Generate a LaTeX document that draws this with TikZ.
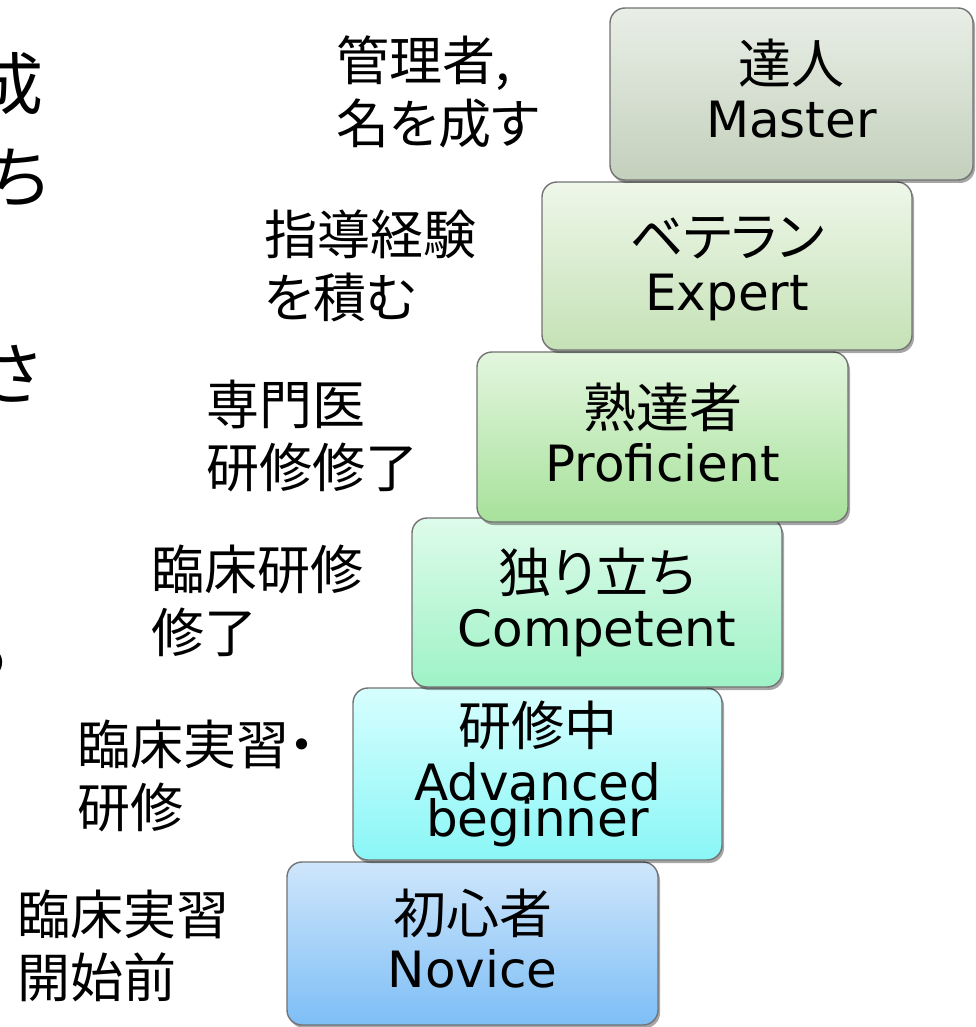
\documentclass[tikz,border=0pt]{standalone}
\usepackage{fontspec}
\setmainfont[RawFeature=+palt]{Noto Sans CJK JP}
\newfontfamily\lat{DejaVu Sans}
\usetikzlibrary{shadows}
\tikzset{
  stepbox/.style={rectangle, rounded corners=15pt, draw=black!55, line width=1.4pt,
    inner sep=0pt, drop shadow={shadow xshift=2pt, shadow yshift=-3pt, opacity=0.35, fill=black}},
  jp/.style={inner sep=0pt, anchor=base, font=\fontsize{53}{58}\selectfont},
  en/.style={inner sep=0pt, anchor=base, font=\fontsize{50}{55}\selectfont\lat},
  lbl/.style={inner sep=0pt, anchor=base west, font=\fontsize{53}{62}\selectfont},
  cut/.style={inner sep=0pt, anchor=base east, font=\fontsize{68}{80}\selectfont},
}
\definecolor{mT}{HTML}{E9EEE6}\definecolor{mB}{HTML}{C3D0BC}
\definecolor{eT}{HTML}{EEF7E9}\definecolor{eB}{HTML}{C5E1B6}
\definecolor{pT}{HTML}{E3F6DE}\definecolor{pB}{HTML}{A7E19B}
\definecolor{cT}{HTML}{DEFBEA}\definecolor{cB}{HTML}{9EF2C6}
\definecolor{aT}{HTML}{D7FEFE}\definecolor{aB}{HTML}{8AF6F6}
\definecolor{nT}{HTML}{CFE6FB}\definecolor{nB}{HTML}{7DBEF6}
\begin{document}
\begin{tikzpicture}[x=1pt,y=-1pt]
\useasboundingbox (0,0) rectangle (975,1027);
\clip (0,0) rectangle (975,1027);
\fill[white] (0,0) rectangle (975,1027);

% cut-off text at the left edge
\node[cut] (c1) at (44,110) {成};
\node[cut] (c2) at (48,202) {ち};
\node[cut] (c3) at (41,399) {さ};
\node[cut] (c4) at (9,677) {る};

% boxes, bottom to top
\node[stepbox, top color=nT, bottom color=nB, minimum width=371pt, minimum height=163pt] (nov) at (472.5,943.5) {};
\node[jp] (nov-jp) at ([yshift=10pt]nov.center) {初心者};
\node[en] (nov-en) at ([yshift=-44pt]nov.center) {Novice};

\node[stepbox, top color=aT, bottom color=aB, minimum width=369pt, minimum height=172pt] (adv) at (537.5,774) {};
\node[jp] (adv-jp) at ([yshift=29pt]adv.center) {研修中};
\node[en] (adv-en) at ([yshift=-26pt]adv.center) {Advanced};
\node[en] (adv-en2) at ([yshift=-62pt]adv.center) {beginner};

\node[stepbox, top color=cT, bottom color=cB, minimum width=370pt, minimum height=169pt] (com) at (597,602.5) {};
\node[jp] (com-jp) at ([yshift=10pt]com.center) {独り立ち};
\node[en] (com-en) at ([yshift=-44pt]com.center) {Competent};

\node[stepbox, top color=pT, bottom color=pB, minimum width=371pt, minimum height=170pt] (pro) at (662.5,437) {};
\node[jp] (pro-jp) at ([yshift=10pt]pro.center) {熟達者};
\node[en] (pro-en) at ([yshift=-44pt]pro.center) {Proficient};

\node[stepbox, top color=eT, bottom color=eB, minimum width=370pt, minimum height=168pt] (exp) at (727,266) {};
\node[jp] (exp-jp) at ([yshift=10pt]exp.center) {ベテラン};
\node[en] (exp-en) at ([yshift=-44pt]exp.center) {Expert};

\node[stepbox, top color=mT, bottom color=mB, minimum width=363pt, minimum height=172pt] (mas) at (791.5,94) {};
\node[jp] (mas-jp) at ([yshift=10pt]mas.center) {達人};
\node[en] (mas-en) at ([yshift=-44pt]mas.center) {Master};

% left labels
\node[lbl] (l6a) at (336,81) {管理者,};
\node[lbl] (l6b) at ([yshift=-63pt]l6a.base west) {名を成す};
\node[lbl] (l5a) at (264,254) {指導経験};
\node[lbl] (l5b) at ([yshift=-63pt]l5a.base west) {を積む};
\node[lbl] (l4a) at (206,424) {専門医};
\node[lbl] (l4b) at ([yshift=-63pt]l4a.base west) {研修修了};
\node[lbl] (l3a) at (151,589) {臨床研修};
\node[lbl] (l3b) at ([yshift=-63pt]l3a.base west) {修了};
\node[lbl] (l2a) at (77,764) {臨床実習・};
\node[lbl] (l2b) at ([yshift=-63pt]l2a.base west) {研修};
\node[lbl] (l1a) at (17,934) {臨床実習};
\node[lbl] (l1b) at ([yshift=-63pt]l1a.base west) {開始前};
\end{tikzpicture}
\end{document}
